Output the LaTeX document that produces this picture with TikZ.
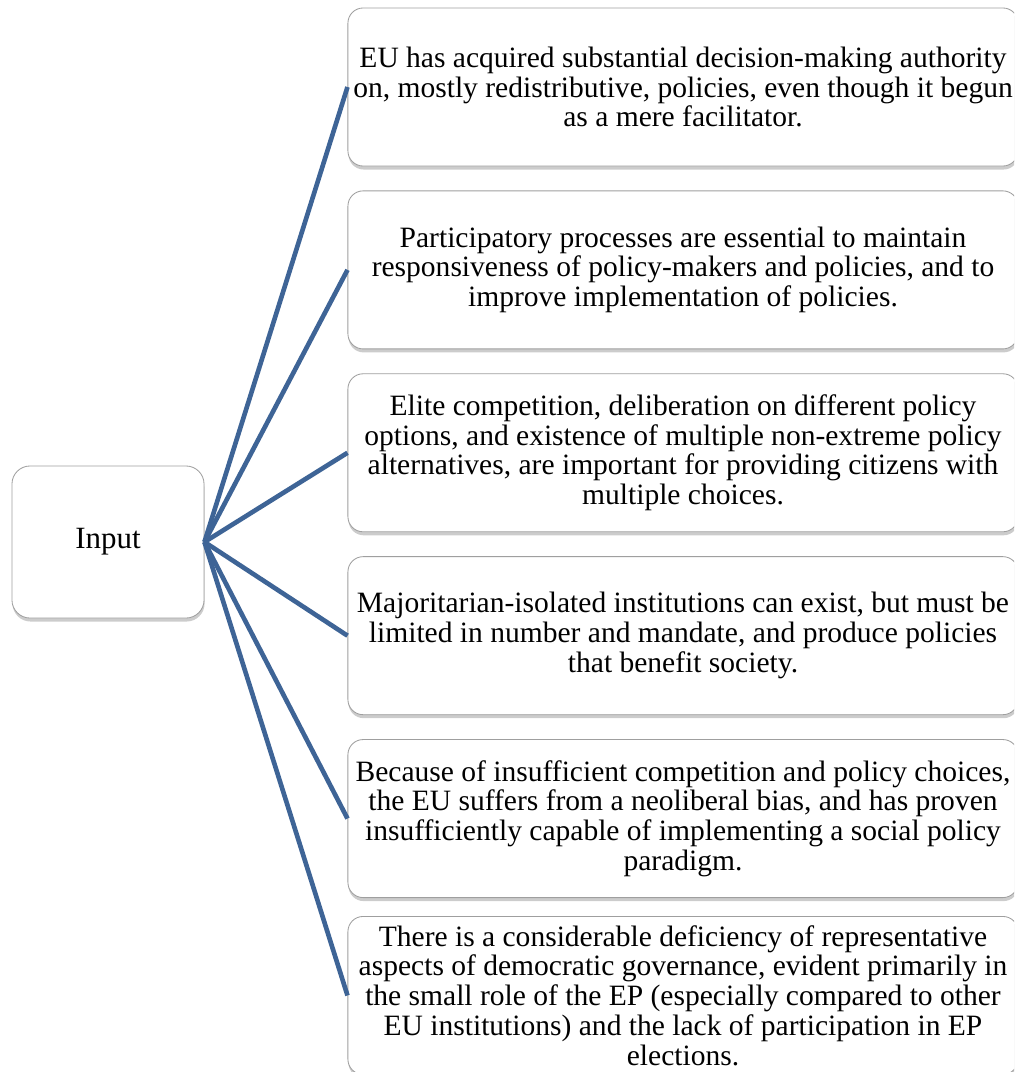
\documentclass[tikz,border=0pt]{standalone}
\usepackage{fontspec}
\setmainfont{Liberation Serif}
\usetikzlibrary{positioning, shadows}

\definecolor{linkblue}{RGB}{62,100,150}

\begin{document}
\begin{tikzpicture}[
    x=0.025cm, y=0.025cm,
    node distance=0.6cm,
    % Styles
    card/.style={draw=gray!75, line width=0.6pt, rounded corners=0.38cm, fill=white,
        drop shadow={shadow xshift=0.4pt, shadow yshift=-2.5pt, opacity=0.4},
        align=center, inner sep=0pt},
    point/.style={card, minimum width=16.75cm, minimum height=3.95cm,
        font=\fontsize{21}{21.2}\selectfont},
    source/.style={card, rounded corners=0.45cm, minimum width=4.8cm, minimum height=3.8cm,
        font=\fontsize{22}{26}\selectfont},
    link/.style={draw=linkblue, line width=3.3pt}
]

    % --- CANVAS ---
    \useasboundingbox (0,0) rectangle (1014,-1072);
    \clip (0,0) rectangle (1014,-1072);

    % --- INPUT ---
    \node[source] (Input) at (108,-542) {Input};

    % --- RIGHT COLUMN ---
    \node[point] (P1) at (683,-87) {EU has acquired substantial decision-making authority\\on, mostly redistributive, policies, even though it begun\\as a mere facilitator.};
    \node[point, below=of P1] (P2) {Participatory processes are essential to maintain\\responsiveness of policy-makers and policies, and to\\improve implementation of policies.};
    \node[point, below=of P2] (P3) {Elite competition, deliberation on different policy\\options, and existence of multiple non-extreme policy\\alternatives, are important for providing citizens with\\multiple choices.};
    \node[point, below=of P3] (P4) {Majoritarian-isolated institutions can exist, but must be\\limited in number and mandate, and produce policies\\that benefit society.};
    \node[point, below=of P4] (P5) {Because of insufficient competition and policy choices,\\the EU suffers from a neoliberal bias, and has proven\\insufficiently capable of implementing a social policy\\paradigm.};
    % last box is taller than the others, pull it up a little
    \node[point, below=0.45cm of P5] (P6) {There is a considerable deficiency of representative\\aspects of democratic governance, evident primarily in\\the small role of the EP (especially compared to other\\EU institutions) and the lack of participation in EP\\elections.};

    % --- CONNECTORS ---
    \foreach \p in {P1,P2,P3,P4,P5,P6}
        \draw[link] (Input.east) -- (\p.west);

\end{tikzpicture}
\end{document}
